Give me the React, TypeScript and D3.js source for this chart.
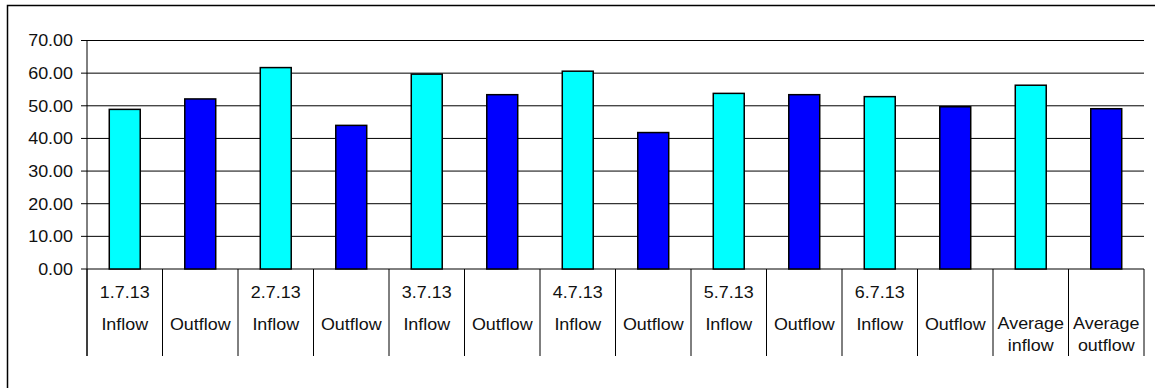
import React from "react";
import * as d3 from "d3";

// Daily flow measurements (1–6 July 2013) and their averages
const categories = [
  ["1.7.13", "Inflow"],
  ["", "Outflow"],
  ["2.7.13", "Inflow"],
  ["", "Outflow"],
  ["3.7.13", "Inflow"],
  ["", "Outflow"],
  ["4.7.13", "Inflow"],
  ["", "Outflow"],
  ["5.7.13", "Inflow"],
  ["", "Outflow"],
  ["6.7.13", "Inflow"],
  ["", "Outflow"],
  ["Average", "inflow"],
  ["Average", "outflow"],
];
const values = [48.9, 52.1, 61.7, 44.0, 59.7, 53.4, 60.6, 41.8, 53.8, 53.4, 52.8, 49.7, 56.3, 49.1];
const kinds = ["in", "out", "in", "out", "in", "out", "in", "out", "in", "out", "in", "out", "in", "out"];
const yTicks = [0, 10, 20, 30, 40, 50, 60, 70];

const W = 1155;
const H = 388;
const left = 87;
const right = 1144;
const top = 40.5;
const bottom = 269;
const labelBottom = 356;
const FONT = "'Liberation Sans', Arial, sans-serif";
const FS = 16;
const SX = 1.12;

const fillFor = (k: string) => (k === "in" ? "#00FFFF" : "#0000FF");

function Label({ x, y, text, anchor }: { x: number; y: number; text: string; anchor: string }) {
  return (
    <g transform={`translate(${x},${y}) scale(${SX},1)`}>
      <text fontFamily={FONT} fontSize={FS} fill="#111" textAnchor={anchor}>
        {text}
      </text>
    </g>
  );
}

export default function App() {
  const x = d3
    .scaleBand<number>()
    .domain(d3.range(values.length))
    .range([left, right])
    .paddingInner(0)
    .paddingOuter(0);
  const y = d3.scaleLinear().domain([0, 70]).range([bottom, top]);
  const bw = x.bandwidth();
  const barW = bw * 0.41;

  return (
    <svg
      width={W}
      height={H}
      style={{ position: "fixed", left: 0, top: 0, background: "#fff" }}
    >
      {/* outer frame */}
      <rect x={7.5} y={5.5} width={W + 20} height={H + 20} fill="none" stroke="#000" strokeWidth={1.5} />

      {/* horizontal grid lines */}
      {yTicks.map((t) => (
        <line key={t} x1={left} x2={right} y1={y(t)} y2={y(t)} stroke="#000" strokeWidth={1} />
      ))}
      {/* y ticks & labels */}
      {yTicks.map((t) => (
        <g key={"t" + t}>
          <line x1={left - 6} x2={left} y1={y(t)} y2={y(t)} stroke="#000" />
          <Label x={73} y={y(t) + 5.8} text={t.toFixed(2)} anchor="end" />
        </g>
      ))}

      {/* y axis */}
      <line x1={left} x2={left} y1={top} y2={labelBottom} stroke="#000" />

      {/* category separators */}
      {d3.range(values.length + 1).map((i) => {
        const xx = i < values.length ? (x(i) as number) : right;
        return <line key={"s" + i} x1={xx} x2={xx} y1={bottom} y2={labelBottom} stroke="#000" />;
      })}

      {/* bars */}
      {values.map((v, i) => {
        const cx = (x(i) as number) + bw / 2;
        return (
          <rect
            key={"b" + i}
            x={cx - barW / 2}
            y={y(v)}
            width={barW}
            height={y(0) - y(v)}
            fill={fillFor(kinds[i])}
            stroke="#000"
            strokeWidth={1.5}
          />
        );
      })}

      {/* category labels */}
      {categories.map(([a, b], i) => {
        const cx = (x(i) as number) + bw / 2;
        const isAvg = a === "Average";
        return (
          <g key={"c" + i}>
            {isAvg ? (
              <>
                <Label x={cx} y={328.5} text={a} anchor="middle" />
                <Label x={cx} y={350.5} text={b} anchor="middle" />
              </>
            ) : (
              <>
                {a && <Label x={cx} y={298} text={a} anchor="middle" />}
                <Label x={cx} y={330} text={b} anchor="middle" />
              </>
            )}
          </g>
        );
      })}
    </svg>
  );
}
